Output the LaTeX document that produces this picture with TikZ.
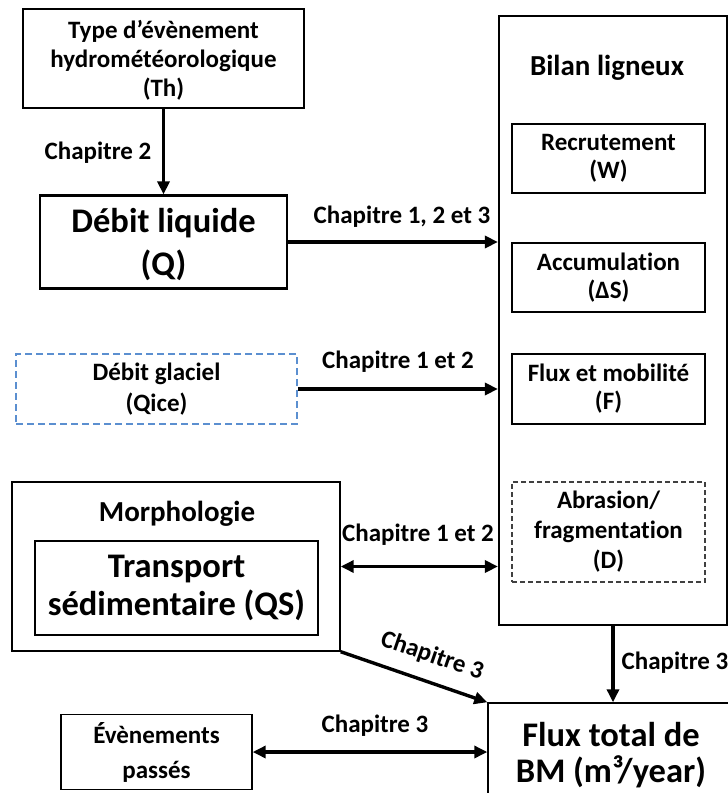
\documentclass[tikz,border=0pt]{standalone}
\usepackage{fontspec}
\setmainfont{Carlito}[Ligatures=NoCommon]
\usetikzlibrary{arrows.meta}
\definecolor{dashblue}{HTML}{5B8FD0}
\begin{document}
\begin{tikzpicture}[x=1pt,y=-1pt,
  box/.style={draw, line width=1.4pt, inner sep=0pt, align=center},
  lbl/.style={font=\bfseries\fontsize{25}{29}\selectfont, inner sep=0pt, align=center},
  mid/.style={font=\bfseries\fontsize{29}{34}\selectfont, inner sep=0pt, align=center},
  big/.style={font=\bfseries\fontsize{34.5}{40}\selectfont, inner sep=0pt, align=center},
  tip/.tip={Triangle[length=13pt,width=12pt]},
  arr/.style={line width=3.4pt, -tip},
  darr/.style={line width=3.4pt, tip-tip}
]
\useasboundingbox (0,0) rectangle (728,793);
\clip (0,0) rectangle (728,793);
% boxes
\node[box, minimum width=281pt, minimum height=99pt, lbl, text depth=0pt] (th) at (163.5,58.5) {Type d’évènement\\hydrométéorologique\\(Th)};
\node[box, line width=2.2pt, minimum width=247pt, minimum height=93pt, big, font=\bfseries\fontsize{34.5}{43}\selectfont, text depth=0pt] (dl) at (163.5,242) {Débit liquide\\(Q)};
\node[box, line width=2.2pt, minimum width=228pt, minimum height=609pt] (bil) at (613,320.5) {};
\node[mid] (bilt) at (607,68) {Bilan ligneux};
\node[box, minimum width=193pt, minimum height=69pt, lbl, font=\bfseries\fontsize{25}{28}\selectfont] (rec) at (608.5,158.5) {Recrutement\\(W)};
\node[box, minimum width=193pt, minimum height=69pt, lbl, font=\bfseries\fontsize{25}{28}\selectfont] (acc) at (608.5,277.5) {Accumulation\\(ΔS)};
\node[box, minimum width=193pt, minimum height=70pt, lbl, font=\bfseries\fontsize{25}{28}\selectfont] (flx) at (608.5,389) {Flux et mobilité\\(F)};
\node[box, draw=black!75, line width=1.1pt, dash pattern=on 5pt off 3pt, minimum width=193pt, minimum height=100pt, lbl, font=\bfseries\fontsize{25}{30}\selectfont] (abr) at (608.5,532) {Abrasion/\\fragmentation\\(D)};
\node[box, draw=dashblue, line width=1.5pt, dash pattern=on 7pt off 4pt, minimum width=281pt, minimum height=70pt, lbl, font=\bfseries\fontsize{25}{31}\selectfont] (qice) at (156.5,389) {Débit glaciel\\(Qice)};
\node[box, minimum width=328pt, minimum height=169pt] (mor) at (176,566.5) {};
\node[mid] (mort) at (177,514) {Morphologie};
\node[box, minimum width=283pt, minimum height=94pt, big, font=\bfseries\fontsize{34.5}{38}\selectfont] (qs) at (176.5,588) {Transport\\sédimentaire (QS)};
\node[box, minimum width=191pt, minimum height=75pt, lbl, font=\bfseries\fontsize{25}{35}\selectfont] (evt) at (156.5,752) {Évènements\\passés};
\node[box, minimum width=250pt, minimum height=117pt] (ft) at (613,761.5) {};
\node[big, font=\bfseries\fontsize{34.5}{36}\selectfont] (ftt) at (611,755) {Flux total de\\BM (m³/year)};
% connectors
\draw[arr] (th.south) -- (dl.north);
\node[lbl] (c2) at (98,153) {Chapitre 2};
\draw[arr] (dl.east) -- (bil.west |- dl.east);
\node[lbl] (c123) at (402,217) {Chapitre 1, 2 et 3};
\draw[arr] (qice.east) -- (bil.west |- qice.east);
\node[lbl] (c12a) at (398,362) {Chapitre 1 et 2};
\draw[darr] (mor.east) -- (bil.west |- mor.east);
\node[lbl] (c12b) at (418,535) {Chapitre 1 et 2};
\draw[arr] (mor.south east) -- (ft.north west);
\node[lbl, rotate=-19] (c3a) at (432,656) {Chapitre 3};
\draw[arr] (bil.south) -- (ft.north);
\node[lbl] (c3b) at (675,663) {Chapitre 3};
\draw[darr] (evt.east) -- (ft.west |- evt.east);
\node[lbl] (c3c) at (375,726) {Chapitre 3};
\end{tikzpicture}
\end{document}
